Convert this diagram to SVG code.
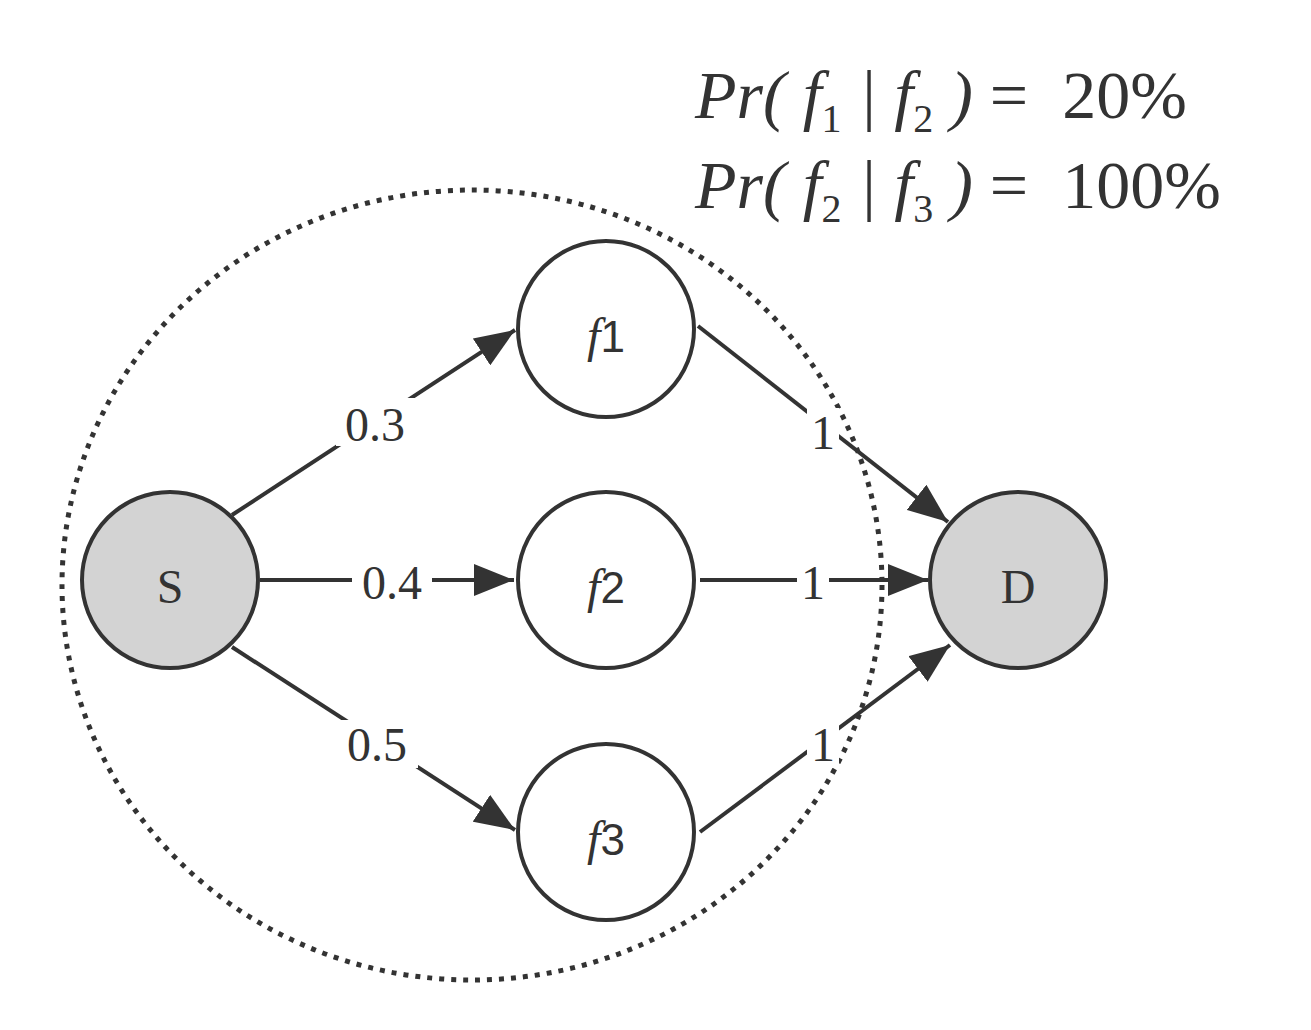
<svg xmlns="http://www.w3.org/2000/svg" width="1311" height="1030" viewBox="0 0 1311 1030">
<defs>
<style>
.n{fill:#fff;stroke:#333;stroke-width:4}
.g{fill:#d3d3d3;stroke:#333;stroke-width:4}
.e{stroke:#333;stroke-width:4;fill:none;marker-end:url(#a)}
.l{font-family:"Liberation Serif",serif;font-size:48px;fill:#333;text-anchor:middle}
.bg{fill:#fff}
.t{font-family:"Liberation Serif",serif;font-size:68px;fill:#333;font-style:italic;white-space:pre}
.u{font-style:normal}
</style>
<marker id="a" viewBox="0 0 10 10" refX="10" refY="5" markerWidth="40" markerHeight="32" markerUnits="userSpaceOnUse" orient="auto" preserveAspectRatio="none"><path d="M0,0L10,5L0,10z" fill="#333"/></marker>
</defs>
<ellipse cx="472" cy="585" rx="410" ry="395" fill="none" stroke="#333" stroke-width="5" stroke-dasharray="5 7"/>
<g id="edges">
<line class="e" x1="232" y1="515" x2="515" y2="330"/>
<line class="e" x1="260" y1="580" x2="514" y2="580"/>
<line class="e" x1="232" y1="647" x2="515" y2="830"/>
<line class="e" x1="698" y1="326" x2="948" y2="522"/>
<line class="e" x1="700" y1="580" x2="928" y2="580"/>
<line class="e" x1="700" y1="832" x2="950" y2="645"/>
<rect class="bg" x="336" y="398" width="80" height="48"/><text class="l" x="375" y="441">0.3</text>
<rect class="bg" x="352" y="558" width="80" height="48"/><text class="l" x="392" y="599">0.4</text>
<rect class="bg" x="338" y="720" width="80" height="48"/><text class="l" x="377" y="761">0.5</text>
<rect class="bg" x="807" y="408" width="32" height="48"/><text class="l" x="823" y="449">1</text>
<rect class="bg" x="797" y="558" width="32" height="48"/><text class="l" x="813" y="599">1</text>
<rect class="bg" x="807" y="720" width="32" height="48"/><text class="l" x="823" y="761">1</text>
</g>
<g id="S"><circle class="g" cx="170" cy="580" r="88"/><text class="l" x="170" y="603" font-size="64">S</text></g>
<g id="f1"><circle class="n" cx="606" cy="329" r="88"/><text x="606" y="352" class="l" font-size="64"><tspan font-style="italic">f</tspan><tspan font-family="Liberation Sans,sans-serif" font-size="44">1</tspan></text></g>
<g id="f2"><circle class="n" cx="606" cy="580" r="88"/><text x="606" y="603" class="l" font-size="64"><tspan font-style="italic">f</tspan><tspan font-family="Liberation Sans,sans-serif" font-size="44">2</tspan></text></g>
<g id="f3"><circle class="n" cx="606" cy="832" r="88"/><text x="606" y="855" class="l" font-size="64"><tspan font-style="italic">f</tspan><tspan font-family="Liberation Sans,sans-serif" font-size="44">3</tspan></text></g>
<g id="D"><circle class="g" cx="1018" cy="580" r="88"/><text class="l" x="1018" y="603" font-size="64">D</text></g>
<text class="t" x="695" y="118">Pr( f<tspan font-size="40" dy="14" class="u">1</tspan><tspan dy="-14"> | f</tspan><tspan font-size="40" dy="14" class="u">2</tspan><tspan dy="-14"> ) </tspan><tspan class="u">=  20%</tspan></text>
<text class="t" x="695" y="208">Pr( f<tspan font-size="40" dy="14" class="u">2</tspan><tspan dy="-14"> | f</tspan><tspan font-size="40" dy="14" class="u">3</tspan><tspan dy="-14"> ) </tspan><tspan class="u">=  100%</tspan></text>
</svg>
